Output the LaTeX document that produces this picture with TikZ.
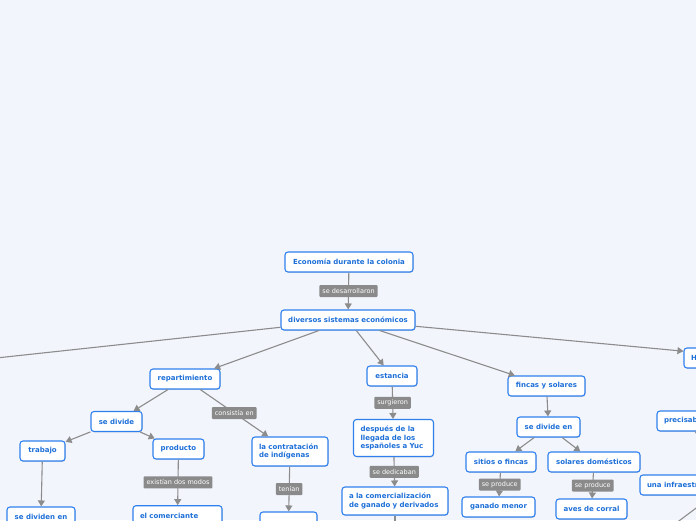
\documentclass[tikz,border=0pt]{standalone}
\usepackage{fontspec}
\setmainfont{DejaVu Sans}
\usetikzlibrary{arrows.meta,shadows}
\definecolor{bg}{HTML}{F3F5FD}
\definecolor{nodeblue}{HTML}{2F80ED}
\definecolor{txtblue}{HTML}{1D6FD8}
\definecolor{labgray}{HTML}{8A8A8A}
\definecolor{linegray}{HTML}{8C8C8C}
\begin{document}
\begin{tikzpicture}[x=1pt,y=-1pt,
  box/.style={draw=nodeblue, fill=white, line width=1.1pt, rounded corners=3pt,
    text=txtblue, font=\fontsize{7}{8.7}\selectfont\bfseries,
    minimum height=20pt, inner xsep=0pt, inner ysep=2pt,
    drop shadow={shadow xshift=0.6pt, shadow yshift=-0.8pt, opacity=0.15, fill=black}},
  mbox/.style={box, align=left, inner xsep=7pt, inner ysep=3pt},
  lab/.style={fill=labgray, text=white, font=\fontsize{6.5}{7}\selectfont,
    inner xsep=3pt, inner ysep=0pt, minimum height=12pt, rounded corners=1pt},
  conn/.style={draw=linegray, line width=1.1pt, -{Triangle[length=6pt,width=7pt]}},
]
\useasboundingbox (0,0) rectangle (696,520);
\fill[bg] (0,0) rectangle (696,520);
\clip (0,0) rectangle (696,520);

% nodes
\node[box, minimum width=128pt] (eco) at (349,262) {Economía durante la colonia};
\node[box, minimum width=134pt] (div) at (348,320) {diversos sistemas económicos};
\node[box, minimum width=70pt] (rep) at (185,379) {repartimiento};
\node[box, minimum width=51pt] (sdv) at (116.5,421.5) {se divide};
\node[box, minimum width=45pt] (trab) at (42.5,451) {trabajo};
\node[box, minimum width=51pt] (prod) at (178.5,449) {producto};
\node[box, minimum width=68pt] (sdiv) at (41,517) {se dividen en};
\node[mbox, text width=75pt, minimum height=20pt] (com) at (177.5,515.7) {el comerciante};
\node[mbox, text width=62pt, minimum height=29pt] (cont) at (290,451.5) {la contratación\\de indígenas};
\node[box, minimum width=57pt] (ten) at (288.5,522) {};
\node[box, minimum width=50pt] (est) at (392,376) {estancia};
\node[mbox, text width=66pt, minimum height=37pt] (desp) at (393.5,438) {después de la\\llegada de los\\españoles a Yuc};
\node[mbox, text width=92pt, minimum height=28pt] (comer) at (395,501) {a la comercialización\\de ganado y derivados};
\node[box, minimum width=77pt] (fin) at (546.5,386) {fincas y solares};
\node[box, minimum width=63pt] (sde) at (548.5,427) {se divide en};
\node[box, minimum width=70pt] (sit) at (501,462) {sitios o fincas};
\node[box, minimum width=92pt] (sol) at (594,462) {solares domésticos};
\node[box, minimum width=73pt] (gan) at (498.5,507) {ganado menor};
\node[box, minimum width=71pt] (ave) at (591.5,509) {aves de corral};
\node[mbox, text width=132pt, minimum height=20pt] (hac) at (757,358) {Haciendas};
\node[mbox, text width=50pt, minimum height=20pt] (prec) at (689,421) {precisaban};
\node[mbox, text width=160pt, minimum height=20pt] (inf) at (727,485) {una infraestructura};

\coordinate (offL) at (-300,390);
\coordinate (offB) at (395,580);
\coordinate (offR) at (640,550);

% connectors
\draw[conn] (eco) -- node[lab]{se desarrollaron} (div);
\draw[conn] (div) -- (offL);
\draw[conn] (div) -- (rep);
\draw[conn] (div) -- (est);
\draw[conn] (div) -- (fin);
\draw[conn] (div) -- (hac);
\draw[conn] (rep) -- (sdv);
\draw[conn] (rep) -- node[lab]{consistía en} (cont);
\draw[conn] (sdv) -- (trab);
\draw[conn] (sdv) -- (prod);
\draw[conn] (trab) -- (sdiv);
\draw[conn] (prod) -- node[lab]{existían dos modos} (com);
\draw[conn] (cont) -- node[lab]{tenían} (ten);
\draw[conn] (est) -- node[lab]{surgieron} (desp);
\draw[conn] (desp) -- node[lab]{se dedicaban} (comer);
\draw[conn] (comer) -- (offB);
\draw[conn] (fin) -- (sde);
\draw[conn] (sde) -- (sit);
\draw[conn] (sde) -- (sol);
\draw[conn] (sit) -- node[lab]{se produce} (gan);
\draw[conn] (sol) -- node[lab]{se produce} (ave);
\draw[conn] (prec) -- (inf);
\draw[conn] (inf) -- (offR);
\end{tikzpicture}
\end{document}
